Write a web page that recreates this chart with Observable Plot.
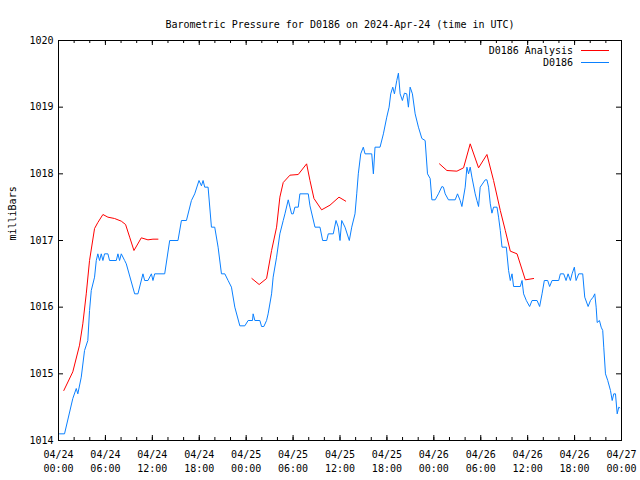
<!DOCTYPE html>
<html>
<head>
<meta charset="utf-8">
<script src="https://cdn.jsdelivr.net/npm/d3@7"></script>
<script src="https://cdn.jsdelivr.net/npm/@observablehq/plot@0.6"></script>
<style>
  body { margin: 0; background: #fff; }
  #wrap { position: relative; width: 640px; height: 480px; font-family: "DejaVu Sans Mono", monospace; font-size: 10px; color: black; }
  #legend { position: absolute; right: 31px; top: 44px; }
  .lg { display: flex; justify-content: flex-end; align-items: center; height: 12px; }
  .lg .sw { display: inline-block; width: 28px; height: 1px; margin-left: 8px; }
</style>
</head>
<body>
<div id="wrap"><div id="legend"></div></div>
<script>
const title = "Barometric Pressure for D0186 on 2024-Apr-24 (time in UTC)";
const yLabel = "milliBars";
const seriesNames = ["D0186 Analysis", "D0186"];
const seriesColors = ["#ff0000", "#0a80ff"];

const yTicks = [1014, 1015, 1016, 1017, 1018, 1019, 1020];
const xMajorTicks = [0, 6, 12, 18, 24, 30, 36, 42, 48, 54, 60, 66, 72];
const xMinorTicks = [0,2,4,6,8,10,12,14,16,18,20,22,24,26,28,30,32,34,36,38,40,42,44,46,48,50,52,54,56,58,60,62,64,66,68,70,72];
const xTickLabels = ["04/24\n00:00","04/24\n06:00","04/24\n12:00","04/24\n18:00","04/25\n00:00","04/25\n06:00","04/25\n12:00","04/25\n18:00","04/26\n00:00","04/26\n06:00","04/26\n12:00","04/26\n18:00","04/27\n00:00"];

// hours since 2024-04-24 00:00 UTC
const obsHours = [0.13,0.77,1.83,2.27,2.47,2.91,3.33,3.75,3.97,4.19,4.61,4.83,5.03,5.25,5.47,5.68,5.89,6.32,6.53,7.39,7.6,7.81,8.03,8.46,8.67,9.74,10.16,10.8,11.02,11.44,11.88,12.08,12.3,13.58,14.22,15.28,15.72,16.36,17.0,17.42,17.97,18.28,18.49,18.7,19.13,19.56,19.98,20.41,20.84,21.27,21.69,22.12,22.55,23.19,23.83,24.25,24.81,24.89,25.11,25.75,25.97,26.26,26.61,26.81,27.25,27.45,27.89,28.31,28.74,28.96,29.38,29.6,29.81,30.02,30.23,30.66,30.87,31.94,32.16,32.8,33.44,33.78,34.3,34.5,35.14,35.49,35.78,36.0,36.22,36.64,37.19,37.5,37.92,38.14,38.34,38.65,38.98,39.2,40.06,40.27,40.48,41.12,41.55,41.98,42.28,42.49,42.75,42.96,43.26,43.47,43.69,43.98,44.24,44.54,44.75,44.97,45.26,45.61,46.03,46.47,46.89,47.19,47.53,47.75,48.17,48.59,49.03,49.23,49.45,49.87,50.73,51.03,51.37,51.59,52.01,52.23,52.44,52.65,52.87,53.29,53.51,53.72,53.93,54.57,54.79,55.0,55.22,55.43,55.64,56.08,56.28,56.5,56.72,57.27,57.56,57.78,58.0,58.2,59.06,59.28,59.48,59.83,60.25,60.56,61.2,61.53,61.84,62.13,62.56,62.81,63.12,63.97,64.18,64.61,64.91,65.17,65.46,65.68,65.97,66.19,66.53,67.04,67.3,67.73,68.03,68.37,68.58,68.76,68.89,69.18,69.4,69.6,69.73,69.95,70.24,70.59,70.81,71.01,71.23,71.45,71.65,71.78];
const obsValues = [1014.1,1014.1,1014.63,1014.78,1014.7,1014.95,1015.35,1015.5,1015.95,1016.25,1016.45,1016.7,1016.8,1016.7,1016.8,1016.7,1016.8,1016.8,1016.7,1016.7,1016.8,1016.7,1016.8,1016.7,1016.65,1016.2,1016.2,1016.5,1016.4,1016.4,1016.5,1016.4,1016.5,1016.5,1017.0,1017.0,1017.3,1017.3,1017.6,1017.7,1017.9,1017.82,1017.9,1017.8,1017.8,1017.2,1017.2,1016.9,1016.5,1016.5,1016.4,1016.3,1016.0,1015.72,1015.72,1015.8,1015.8,1015.9,1015.8,1015.8,1015.71,1015.71,1015.8,1015.9,1016.2,1016.45,1016.75,1017.1,1017.3,1017.4,1017.61,1017.5,1017.4,1017.4,1017.5,1017.5,1017.7,1017.7,1017.52,1017.2,1017.2,1017.0,1017.0,1017.1,1017.1,1017.3,1017.2,1017.0,1017.3,1017.2,1017.0,1017.2,1017.4,1017.7,1018.0,1018.3,1018.4,1018.3,1018.3,1018.0,1018.4,1018.4,1018.6,1018.85,1019.0,1019.2,1019.3,1019.2,1019.4,1019.51,1019.2,1019.1,1019.21,1019.2,1019.0,1019.3,1019.2,1018.9,1018.7,1018.53,1018.5,1018.0,1017.93,1017.61,1017.61,1017.7,1017.81,1017.8,1017.7,1017.61,1017.61,1017.7,1017.6,1017.51,1017.8,1018.1,1018.0,1018.1,1017.95,1017.7,1017.6,1017.51,1017.8,1017.91,1017.91,1017.8,1017.55,1017.41,1017.5,1017.5,1017.35,1017.15,1016.9,1016.9,1016.55,1016.4,1016.5,1016.31,1016.31,1016.4,1016.2,1016.1,1016.01,1016.1,1016.1,1016.01,1016.2,1016.4,1016.4,1016.31,1016.4,1016.4,1016.5,1016.5,1016.4,1016.5,1016.4,1016.5,1016.6,1016.4,1016.5,1016.5,1016.15,1016.01,1016.1,1016.15,1016.2,1016.0,1015.77,1015.8,1015.7,1015.65,1015.4,1015.0,1014.9,1014.75,1014.6,1014.7,1014.7,1014.4,1014.5,1014.49];

const anaHours = [0.68,1.83,2.69,3.11,3.55,3.97,4.61,5.03,5.68,6.32,7.17,8.03,8.58,9.1,9.65,10.59,11.44,12.08,12.72,
  24.73,25.66,26.61,27.25,27.89,28.31,28.74,29.6,30.66,31.73,32.16,32.67,33.65,34.72,35.87,36.73,
  48.72,49.67,50.95,51.8,52.65,53.72,54.79,55.64,56.5,57.14,57.78,58.64,59.7,60.76];
const anaValues = [1014.75,1015.03,1015.43,1015.75,1016.2,1016.7,1017.18,1017.27,1017.39,1017.35,1017.33,1017.29,1017.24,1017.05,1016.85,1017.04,1017.01,1017.02,1017.02,
  1016.43,1016.34,1016.43,1016.85,1017.2,1017.65,1017.87,1017.98,1017.99,1018.15,1017.9,1017.63,1017.46,1017.53,1017.65,1017.59,
  1018.15,1018.05,1018.04,1018.09,1018.45,1018.09,1018.29,1017.9,1017.45,1017.15,1016.84,1016.8,1016.41,1016.43];
const anaRun = [0,0,0,0,0,0,0,0,0,0,0,0,0,0,0,0,0,0,0,
  1,1,1,1,1,1,1,1,1,1,1,1,1,1,1,1,
  2,2,2,2,2,2,2,2,2,2,2,2,2,2];

const obs = obsHours.map((h, i) => ({h, v: obsValues[i]}));
const ana = anaHours.map((h, i) => ({h, v: anaValues[i], run: anaRun[i]}));

const font = {fontFamily: "DejaVu Sans Mono, monospace", fontSize: 10, fill: "black"};

const chart = Plot.plot({
  width: 640,
  height: 480,
  marginLeft: 58,
  marginRight: 19,
  marginTop: 40,
  marginBottom: 40,
  style: {fontFamily: "DejaVu Sans Mono, monospace", fontSize: "10px", background: "white", color: "black"},
  x: {domain: [0, 72], axis: null},
  y: {domain: [1014, 1020], axis: null},
  marks: [
    Plot.tickX(xMinorTicks, {x: d => d, insetTop: 397, stroke: "black"}),
    Plot.tickX(xMinorTicks, {x: d => d, insetBottom: 397, stroke: "black"}),
    Plot.tickX(xMajorTicks, {x: d => d, insetTop: 395, stroke: "black"}),
    Plot.tickX(xMajorTicks, {x: d => d, insetBottom: 395, stroke: "black"}),
    Plot.tickY(yTicks, {y: d => d, insetRight: 558, stroke: "black"}),
    Plot.tickY(yTicks, {y: d => d, insetLeft: 558, stroke: "black"}),
    Plot.line(ana, {x: "h", y: "v", z: "run", stroke: seriesColors[0], strokeWidth: 1, curve: "linear"}),
    Plot.line(obs, {x: "h", y: "v", stroke: seriesColors[1], strokeWidth: 1, curve: "linear"}),
    Plot.frame({stroke: "black", strokeWidth: 1}),
    Plot.text(yTicks, {y: d => d, text: d => String(d), frameAnchor: "left", textAnchor: "end", dx: -5, ...font}),
    Plot.text(xMajorTicks, {x: d => d, text: (d, i) => xTickLabels[i], frameAnchor: "bottom", lineAnchor: "top", dy: 8, lineHeight: 1.35, ...font}),
    Plot.text([yLabel], {text: d => d, frameAnchor: "left", rotate: -90, dx: -46, ...font}),
    Plot.text([title], {text: d => d, frameAnchor: "top", dy: -20, ...font})
  ]
});

const wrap = document.getElementById("wrap");
wrap.insertBefore(chart, wrap.firstChild);
chart.style.display = "block";

const legend = document.getElementById("legend");
seriesNames.forEach((name, i) => {
  const row = document.createElement("div");
  row.className = "lg";
  const t = document.createElement("span");
  t.textContent = name;
  const sw = document.createElement("span");
  sw.className = "sw";
  sw.style.backgroundColor = seriesColors[i];
  row.appendChild(t);
  row.appendChild(sw);
  legend.appendChild(row);
});
</script>
</body>
</html>
